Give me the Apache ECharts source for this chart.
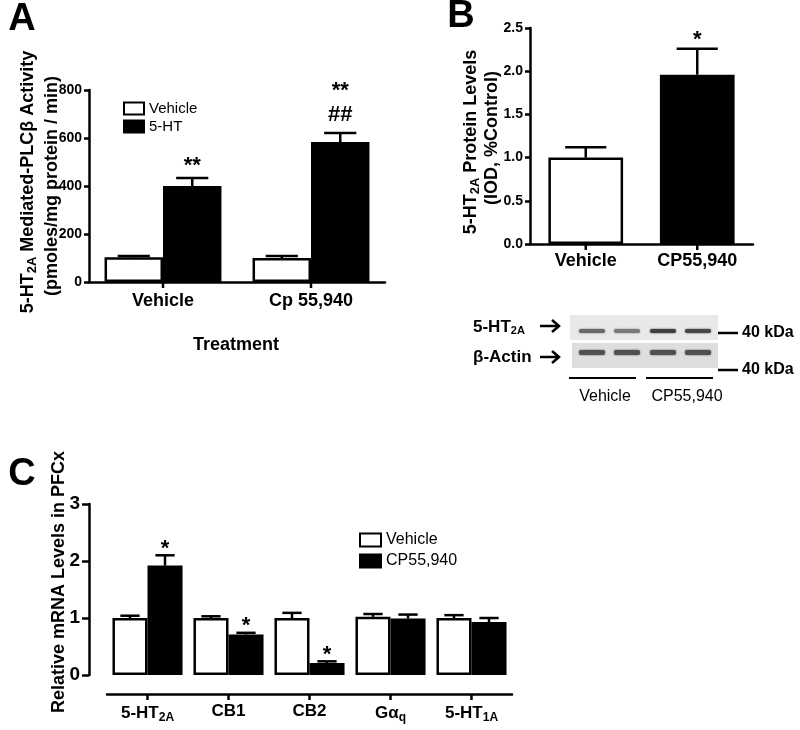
<!DOCTYPE html>
<html><head><meta charset="utf-8">
<script src="https://cdn.jsdelivr.net/npm/echarts@6/dist/echarts.min.js"></script>
<style>html,body{margin:0;background:#fff}#c{width:800px;height:730px}</style>
</head><body><div id="c"></div>
<script>
// ---------- Panel A data ----------
const catsA = ['Vehicle', 'Cp 55,940'];
const ticksA = [0, 200, 400, 600, 800];
const vehA = [103, 100];
const vehAErr = [108, 108];
const htA = [400, 583];
const htAErr = [433, 621];
const sigVehA = [[], []];
const sigHtA = [['**'], ['##', '**']];
// ---------- Panel B data ----------
const catsB = ['Vehicle', 'CP55,940'];
const ticksB = [0, 0.5, 1.0, 1.5, 2.0, 2.5];
const valB = [1.0, 1.96];
const errB = [1.12, 2.26];
const sigB = [[], ['*']];
// ---------- Panel C data ----------
const catsC = ['5-HT_2A', 'CB1', 'CB2', 'Gα_q', '5-HT_1A'];
const ticksC = [0, 1, 2, 3];
const vehC = [1.0, 1.0, 1.0, 1.02, 1.0];
const vehCErr = [1.04, 1.03, 1.09, 1.07, 1.05];
const cpC = [1.92, 0.71, 0.21, 0.99, 0.93];
const cpCErr = [2.10, 0.74, 0.24, 1.06, 1.00];
const sigVehC = [[], [], [], [], []];
const sigCpC = [['*'], ['*'], ['*'], [], []];

const FF = '"Liberation Sans", Arial, sans-serif';
const chart = echarts.init(document.getElementById('c'), null, {renderer: 'canvas'});

const whiteStyle = {color: '#fff', borderColor: '#000', borderWidth: 2.5};
const blackStyle = {color: '#000', borderColor: '#000', borderWidth: 2.5};

function subFmt(s) {
  const p = s.split('_');
  return p.length > 1 ? p[0] + '{s|' + p[1] + '}' : s;
}

function mkAxis(base, tickLen, label, tickExtra) {
  return Object.assign({
    axisLine: {show: true, onZero: false, lineStyle: {color: '#000', width: 2.5}},
    axisTick: Object.assign({show: true, length: tickLen, lineStyle: {color: '#000', width: 2.5}}, tickExtra || {}),
    axisLabel: Object.assign({show: true, color: '#000', fontWeight: 'bold', fontFamily: FF}, label),
    splitLine: {show: false}
  }, base);
}

function errSeries(ai, vals, errs, sigs, off, nb, gap, sigBase, sigStep, sigFs) {
  return {
    type: 'custom', xAxisIndex: ai, yAxisIndex: ai, z: 5, silent: true, clip: false,
    data: vals.map((v, i) => [i, v, errs[i]]),
    renderItem(params, api) {
      const i = api.value(0), v = api.value(1), e = api.value(2);
      const cw = api.size([1, 0])[0];
      const bw = cw * (1 - gap) / nb;
      const p0 = api.coord([i, v]);
      const p1 = api.coord([i, e]);
      const x = p0[0] + off * bw;
      const cap = bw * 0.55;
      const children = [
        {type: 'line', shape: {x1: x, y1: p0[1], x2: x, y2: p1[1]}, style: {stroke: '#000', lineWidth: 2.5}},
        {type: 'line', shape: {x1: x - cap / 2, y1: p1[1], x2: x + cap / 2, y2: p1[1]}, style: {stroke: '#000', lineWidth: 2.5}}
      ];
      (sigs[i] || []).forEach((t, k) => {
        const yc = p1[1] - sigBase - k * sigStep + (t.indexOf('*') >= 0 ? sigFs * 0.25 : 0);
        children.push({type: 'text', style: {text: t, x: x, y: yc, align: 'center', verticalAlign: 'middle',
          font: 'bold ' + sigFs + 'px ' + FF, fill: '#000'}});
      });
      return {type: 'group', children};
    }
  };
}

// category tick marks at label centres, placed through the axis scale
function tickSeries(ai, cats, yOff) {
  return {
    type: 'custom', xAxisIndex: ai, yAxisIndex: ai, z: 10, silent: true, clip: false,
    data: cats.map((c, i) => [i, 0]),
    renderItem(params, api) {
      const p = api.coord([api.value(0), 0]);
      const y = p[1] + yOff;
      return {type: 'line', shape: {x1: p[0], y1: y, x2: p[0], y2: y + 6}, style: {stroke: '#000', lineWidth: 2.5}};
    }
  };
}

const subRich = (fs) => ({s: {fontSize: fs, fontWeight: 'bold', fontFamily: FF, color: '#000', padding: [fs * 0.7, 0, 0, 0]}});

const gapA = 0.21, gapB = 0.33, gapC = 0.135;
const xOffC = 19;

const option = {
  animation: false,
  backgroundColor: '#fff',
  grid: [
    {left: 89, top: 90, width: 296, height: 192, outerBoundsMode: 'none'},
    {left: 530, top: 28, width: 223, height: 216, outerBoundsMode: 'none'},
    {left: 107, top: 504, width: 405, height: 171, outerBoundsMode: 'none'}
  ],
  xAxis: [
    mkAxis({type: 'category', gridIndex: 0, data: catsA}, 6, {fontSize: 18, margin: 10, interval: 0}, {show: false}),
    mkAxis({type: 'category', gridIndex: 1, data: catsB}, 6, {fontSize: 18, margin: 8, interval: 0}, {show: false}),
    mkAxis({type: 'category', gridIndex: 2, data: catsC, offset: xOffC}, 6,
      {fontSize: 17, margin: 9, interval: 0, formatter: subFmt, rich: subRich(12)}, {show: false})
  ],
  yAxis: [
    mkAxis({type: 'value', gridIndex: 0, min: ticksA[0], max: ticksA[ticksA.length - 1], interval: ticksA[1] - ticksA[0]}, 5,
      {fontSize: 14, margin: 7}),
    mkAxis({type: 'value', gridIndex: 1, min: ticksB[0], max: ticksB[ticksB.length - 1], interval: ticksB[1] - ticksB[0]}, 5,
      {fontSize: 14, margin: 7, formatter: v => v.toFixed(1)}),
    mkAxis({type: 'value', gridIndex: 2, offset: 18, min: ticksC[0], max: ticksC[ticksC.length - 1], interval: ticksC[1] - ticksC[0]}, 7,
      {fontSize: 19, margin: 9})
  ],
  legend: [
    {left: 118, top: 96, orient: 'vertical', itemWidth: 20, itemHeight: 12, itemGap: 3, icon: 'rect',
      textStyle: {color: '#000', fontFamily: FF, fontSize: 15}, selectedMode: false,
      data: [{name: 'Vehicle', itemStyle: {color: '#fff', borderColor: '#000', borderWidth: 2}},
             {name: '5-HT', itemStyle: {color: '#000'}}]},
    {left: 354, top: 527, orient: 'vertical', itemWidth: 21, itemHeight: 13, itemGap: 5, icon: 'rect',
      textStyle: {color: '#000', fontFamily: FF, fontSize: 16}, selectedMode: false,
      data: [{name: 'Vehicle', itemStyle: {color: '#fff', borderColor: '#000', borderWidth: 2}},
             {name: 'CP55,940', itemStyle: {color: '#000'}}]}
  ],
  series: [
    {name: 'Vehicle', type: 'bar', xAxisIndex: 0, yAxisIndex: 0, data: vehA, barGap: '0%', barCategoryGap: (gapA * 100) + '%', itemStyle: whiteStyle},
    {name: '5-HT', type: 'bar', xAxisIndex: 0, yAxisIndex: 0, data: htA, barGap: '0%', barCategoryGap: (gapA * 100) + '%', itemStyle: blackStyle},
    errSeries(0, vehA, vehAErr, sigVehA, -0.5, 2, gapA, 18, 30, 22),
    errSeries(0, htA, htAErr, sigHtA, 0.5, 2, gapA, 18, 30, 22),
    tickSeries(0, catsA, 0),
    {name: 'B', type: 'bar', xAxisIndex: 1, yAxisIndex: 1, barCategoryGap: (gapB * 100) + '%',
      data: valB.map((v, i) => ({value: v, itemStyle: i === 0 ? whiteStyle : blackStyle}))},
    errSeries(1, valB, errB, sigB, 0, 1, gapB, 14, 30, 22),
    tickSeries(1, catsB, 0),
    {name: 'Vehicle', type: 'bar', xAxisIndex: 2, yAxisIndex: 2, data: vehC, barGap: '0%', barCategoryGap: (gapC * 100) + '%', itemStyle: whiteStyle},
    {name: 'CP55,940', type: 'bar', xAxisIndex: 2, yAxisIndex: 2, data: cpC, barGap: '0%', barCategoryGap: (gapC * 100) + '%', itemStyle: blackStyle},
    errSeries(2, vehC, vehCErr, sigVehC, -0.5, 2, gapC, 12, 30, 22),
    errSeries(2, cpC, cpCErr, sigCpC, 0.5, 2, gapC, 12, 30, 22),
    tickSeries(2, catsC, xOffC)
  ],
  graphic: []
};

// ---- titles / annotations (text) ----
const G = option.graphic;
function txt(x, y, text, font, opts) {
  G.push({type: 'text', x: x, y: y, silent: true,
    style: Object.assign({text: text, font: font, fill: '#000', align: 'center', verticalAlign: 'middle'}, opts || {})});
}
function rtxt(x, y, text, fs, richFs) {
  G.push({type: 'text', x: x, y: y, rotation: Math.PI / 2, silent: true,
    style: {text: text, font: 'bold ' + fs + 'px ' + FF, fill: '#000', align: 'center', verticalAlign: 'middle',
      rich: {s: {fontSize: richFs, fontWeight: 'bold', fontFamily: FF, fill: '#000', padding: [richFs * 0.7, 0, 0, 0]}}}});
}
// panel letters
txt(22, 20, 'A', 'bold 38px ' + FF);
txt(461, 17, 'B', 'bold 38px ' + FF);
txt(22, 475, 'C', 'bold 38px ' + FF);
// axis titles
rtxt(28, 182, '5-HT{s|2A} Mediated-PLCβ Activity', 18, 13);
rtxt(52, 186, '(pmoles/mg protein / min)', 18, 13);
txt(236, 345, 'Treatment', 'bold 18px ' + FF);
rtxt(471, 142, '5-HT{s|2A} Protein Levels', 18, 13);
rtxt(492, 138, '(IOD, %Control)', 18, 13);
rtxt(59, 582, 'Relative mRNA Levels in PFCx', 18, 13);

// ---- western blot illustration ----
G.push({type: 'rect', shape: {x: 570, y: 315, width: 148, height: 25}, style: {fill: '#e9e9e9'}, silent: true});
G.push({type: 'rect', shape: {x: 572, y: 343, width: 146, height: 25}, style: {fill: '#dedede'}, silent: true});
const laneX = [592, 627, 663, 698];
const topShade = ['#6a6a6a', '#7a7a7a', '#404040', '#474747'];
laneX.forEach((lx, i) => {
  G.push({type: 'rect', shape: {x: lx - 13, y: 329, width: 26, height: 4, r: 2}, style: {fill: topShade[i], shadowBlur: 2, shadowColor: topShade[i]}, silent: true});
  G.push({type: 'rect', shape: {x: lx - 13, y: 350, width: 26, height: 5, r: 2}, style: {fill: '#505050', shadowBlur: 2, shadowColor: '#505050'}, silent: true});
});
G.push({type: 'text', x: 473, y: 327, silent: true, style: {text: '5-HT{s|2A}', font: 'bold 17px ' + FF, fill: '#000', align: 'left', verticalAlign: 'middle',
  rich: {s: {fontSize: 11, fontWeight: 'bold', fontFamily: FF, fill: '#000', padding: [8, 0, 0, 0]}}}});
txt(473, 357, 'β-Actin', 'bold 17px ' + FF, {align: 'left'});
[326, 357].forEach(ay => {
  G.push({type: 'line', shape: {x1: 540, y1: ay, x2: 559, y2: ay}, style: {stroke: '#000', lineWidth: 2.5}, silent: true});
  G.push({type: 'polyline', shape: {points: [[552, ay - 6], [559, ay], [552, ay + 6]]}, style: {stroke: '#000', lineWidth: 2.5, fill: null}, silent: true});
});
[333, 370].forEach(ky => {
  G.push({type: 'line', shape: {x1: 718, y1: ky, x2: 738, y2: ky}, style: {stroke: '#000', lineWidth: 2.5}, silent: true});
  txt(742, ky, '40 kDa', 'bold 16px ' + FF, {align: 'left'});
});
G.push({type: 'line', shape: {x1: 569, y1: 378, x2: 636, y2: 378}, style: {stroke: '#000', lineWidth: 2}, silent: true});
G.push({type: 'line', shape: {x1: 646, y1: 378, x2: 713, y2: 378}, style: {stroke: '#000', lineWidth: 2}, silent: true});
txt(605, 397, 'Vehicle', '16px ' + FF);
txt(687, 397, 'CP55,940', '16px ' + FF);

chart.setOption(option);
</script>
</body></html>
